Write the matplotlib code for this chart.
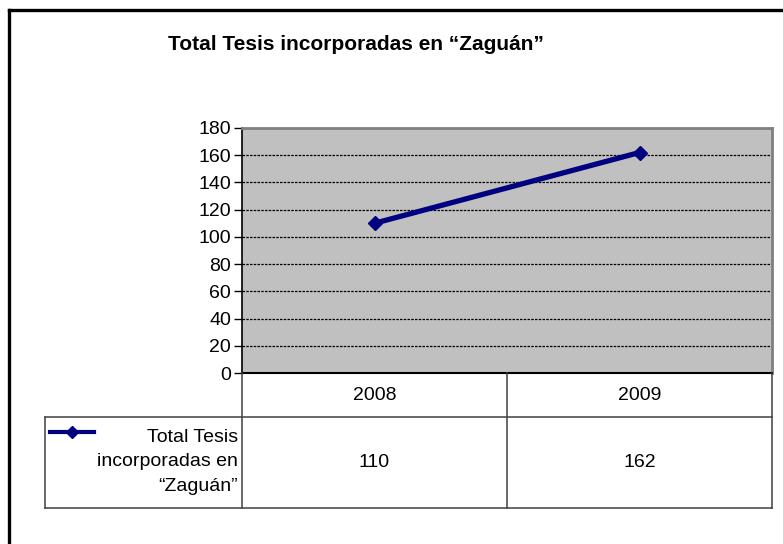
import matplotlib
matplotlib.use("Agg")
import matplotlib.pyplot as plt
from matplotlib.lines import Line2D

categories = ["2008", "2009"]
values = [110, 162]
series_label = "Total Tesis\nincorporadas en\n\u201cZagu\u00e1n\u201d"
title = "Total Tesis incorporadas en \u201cZagu\u00e1n\u201d"
yticks = [0, 20, 40, 60, 80, 100, 120, 140, 160, 180]

plt.rcParams['font.family'] = ['Liberation Sans', 'DejaVu Sans']

W, H = 783, 544
fig = plt.figure(figsize=(W / 100, H / 100), dpi=100)

def fx(x):
    return x / W

def fy(y):
    return 1 - y / H

# outer frame (cropped on right and bottom)
fig.add_artist(Line2D([fx(9), fx(9)], [fy(10), 0], color='black', lw=2.4, solid_capstyle='projecting'))
fig.add_artist(Line2D([fx(9), 1], [fy(10), fy(10)], color='black', lw=2.4, solid_capstyle='projecting'))

L, R, T, B = 242, 772, 128, 373
ax = fig.add_axes([fx(L), fy(B), fx(R) - fx(L), fy(T) - fy(B)])
ax.set_facecolor('#C0C0C0')
x = list(range(len(categories)))
ax.plot(x, values, color='#000080', lw=3.8, marker='D', markersize=7, zorder=3)
ax.set_xlim(-0.5, len(categories) - 0.5)
ax.set_ylim(0, 180)
ax.set_yticks(yticks)
ax.set_yticklabels([str(v) for v in yticks], fontsize=14)
ax.set_xticks([])
ax.yaxis.grid(True, color='black', linestyle=(0, (2, 1)), lw=0.9)
ax.set_axisbelow(True)
for s in ['top', 'right']:
    ax.spines[s].set_color('#808080')
    ax.spines[s].set_linewidth(2)
ax.spines['left'].set_color('black')
ax.spines['bottom'].set_color('black')
ax.spines['left'].set_linewidth(1.2)
ax.spines['bottom'].set_linewidth(1.5)
ax.tick_params(axis='y', length=6, width=1, direction='out', pad=2)

fig.text(fx(356), fy(44), title, fontsize=15, fontweight='bold', ha='center', va='center')

# data table below the plot
mid = (L + R) / 2
hdr_top, hdr_bot, row_bot, tleft = B, 417, 508, 45
lc = '#404040'
def hline(x0, x1, y):
    fig.add_artist(Line2D([fx(x0), fx(x1)], [fy(y), fy(y)], color=lc, lw=1.1))
def vline(x, y0, y1):
    fig.add_artist(Line2D([fx(x), fx(x)], [fy(y0), fy(y1)], color=lc, lw=1.1))

hline(tleft, R, hdr_bot)
hline(tleft, R, row_bot)
vline(L, hdr_top, row_bot)
vline(mid, hdr_top, row_bot)
vline(R, hdr_top, row_bot)
vline(tleft, hdr_bot, row_bot)

col_centers = [(L + mid) / 2, (mid + R) / 2]
for c, cat, val in zip(col_centers, categories, values):
    fig.text(fx(c), fy((hdr_top + hdr_bot) / 2), cat, fontsize=14, ha='center', va='center')
    fig.text(fx(c), fy((hdr_bot + row_bot) / 2), str(val), fontsize=14, ha='center', va='center')

fig.add_artist(Line2D([fx(50), fx(94)], [fy(432), fy(432)], color='#000080', lw=3))
fig.add_artist(Line2D([fx(72)], [fy(432)], color='#000080', marker='D', markersize=6, lw=0))
fig.text(fx(238), fy(462), series_label, fontsize=14, ha='right', va='center',
         multialignment='right', linespacing=1.55)

fig.savefig('out.png', dpi=100)
